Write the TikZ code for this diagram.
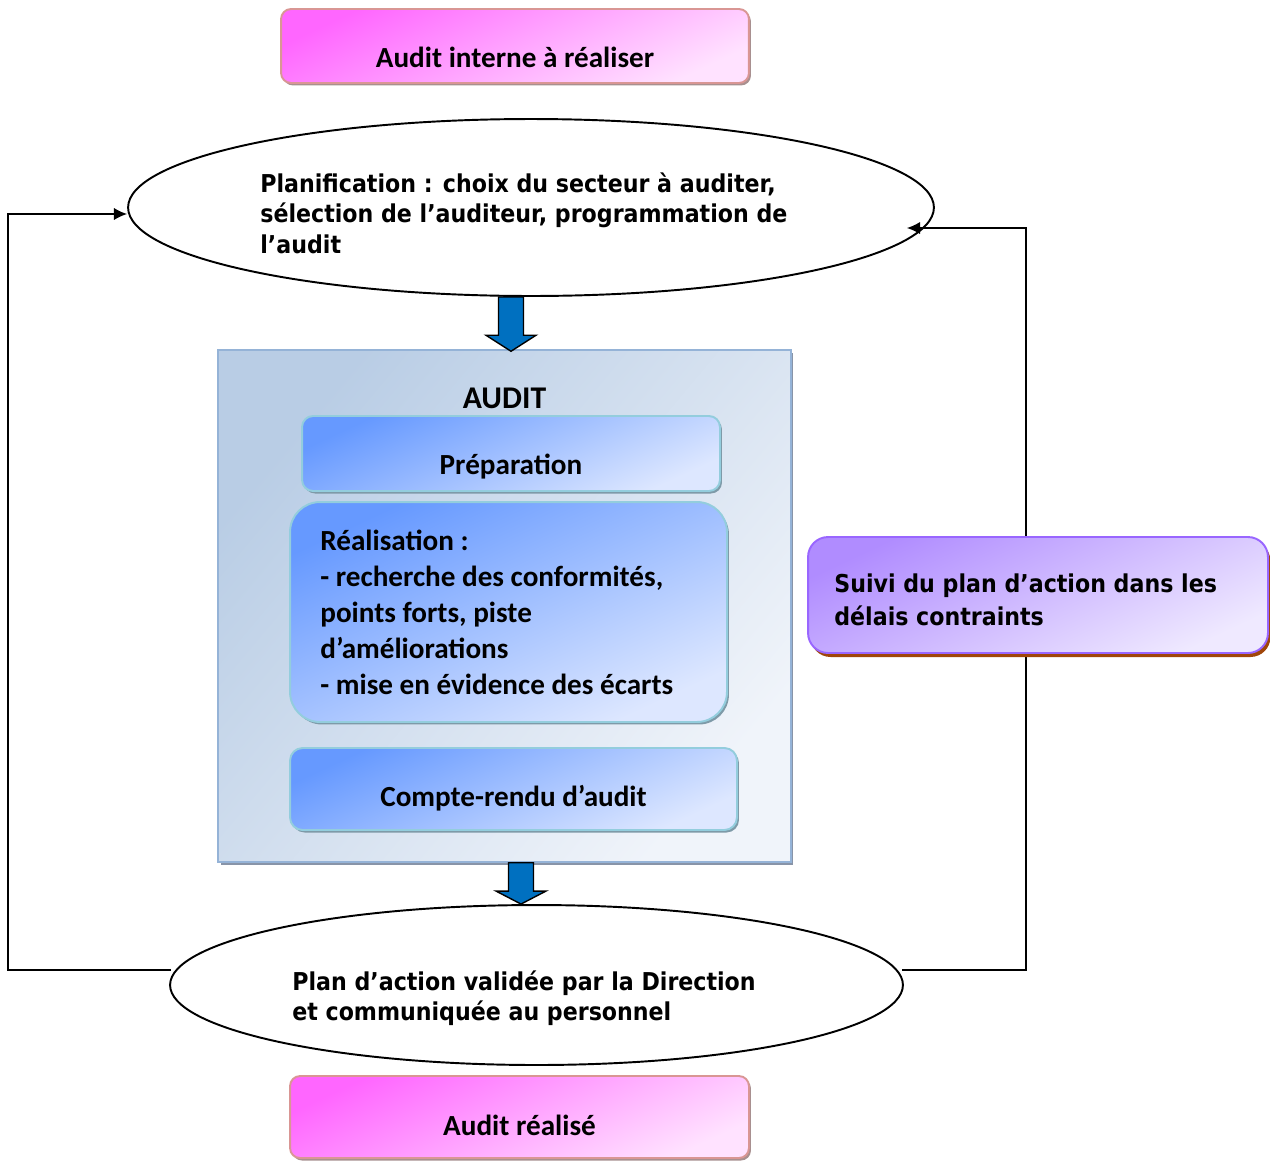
\documentclass[tikz,border=0pt]{standalone}
\usepackage{fontspec}
\usetikzlibrary{shapes.geometric,arrows.meta,calc,shadows}
\newfontfamily\calfont{Carlito}
\newfontfamily\tahfont{DejaVu Sans}[FakeStretch=0.9]

\definecolor{pinkA}{HTML}{FF66FF}
\definecolor{pinkB}{HTML}{FFE2FF}
\definecolor{pinkLine}{HTML}{D99694}
\definecolor{pinkShadow}{HTML}{A89090}
\definecolor{blueA}{HTML}{6699FF}
\definecolor{blueB}{HTML}{DDE7FF}
\definecolor{blueLine}{HTML}{93CDDD}
\definecolor{blueShadow}{HTML}{7E9AA8}
\definecolor{auditA}{HTML}{B9CDE5}
\definecolor{auditB}{HTML}{F0F4FA}
\definecolor{auditLine}{HTML}{95B3D7}
\definecolor{auditShadow}{HTML}{8894A8}
\definecolor{violetA}{HTML}{B08CFF}
\definecolor{violetB}{HTML}{EFE9FF}
\definecolor{violetLine}{HTML}{9966FF}
\definecolor{violetShadow}{HTML}{A0460A}
\definecolor{arrowBlue}{HTML}{0070C0}

\tikzset{
  boxbase/.style={rectangle, inner sep=0pt, line width=1.1pt},
  pinkbox/.style={boxbase, draw=pinkLine, rounded corners=0.2cm,
    top color=pinkA, bottom color=pinkB, shading angle=25,
    drop shadow={shadow xshift=0.04cm, shadow yshift=-0.05cm, fill=pinkShadow, opacity=1}},
  bluebox/.style={boxbase, draw=blueLine, rounded corners=0.22cm,
    top color=blueA, bottom color=blueB, shading angle=25,
    drop shadow={shadow xshift=0.04cm, shadow yshift=-0.05cm, fill=blueShadow, opacity=1}},
  auditbox/.style={boxbase, line width=0.9pt, draw=auditLine,
    top color=auditA, bottom color=auditB, shading angle=50,
    drop shadow={shadow xshift=0.05cm, shadow yshift=-0.06cm, fill=auditShadow, opacity=1}},
  violetbox/.style={boxbase, draw=violetLine, rounded corners=0.4cm,
    top color=violetA, bottom color=violetB, shading angle=25,
    drop shadow={shadow xshift=0.05cm, shadow yshift=-0.08cm, fill=violetShadow, opacity=1}},
  oval/.style={ellipse, draw=black, line width=1.1pt, fill=white, inner sep=0pt},
  calT/.style={inner sep=0pt, font=\calfont\bfseries\fontsize{16.6}{20.5}\selectfont},
  tahT/.style={inner sep=0pt, font=\tahfont\bfseries\fontsize{14}{17.5}\selectfont},
  conn/.style={draw=black, line width=0.85pt, -{Latex[length=7.5pt,width=7pt]}},
  blockarrow/.style={fill=arrowBlue, draw=black, line width=0.8pt, line join=miter},
}

\begin{document}
\begin{tikzpicture}[x=0.02cm, y=-0.02cm]
\useasboundingbox (0,0) rectangle (1270,1160);

% start of the process
\node[pinkbox, minimum width=9.36cm, minimum height=1.48cm] (start) at (515,46) {};
\node[calT, anchor=base] (startT) at (515,67) {Audit interne à réaliser};

% planning
\node[oval, minimum width=16.12cm, minimum height=3.54cm] (plan) at (531,207.5) {};
\node[tahT, anchor=base west] (planT) at (260,192)
  {\begin{tabular}[t]{@{}l@{}}Planification : choix du secteur à auditer,\\ sélection de l’auditeur, programmation de\\ l’audit\end{tabular}};

% the audit itself
\node[auditbox, minimum width=11.46cm, minimum height=10.24cm] (audit) at (504.5,606) {};
\node[calT, font=\calfont\bfseries\fontsize{18}{21}\selectfont, anchor=base] (auditT) at (504.5,408) {AUDIT};

\node[bluebox, minimum width=8.36cm, minimum height=1.5cm] (prep) at (511,453.5) {};
\node[calT, anchor=base] (prepT) at (511,474) {Préparation};

\node[bluebox, rounded corners=0.6cm, minimum width=8.74cm, minimum height=4.4cm] (real) at (508.5,612) {};
\node[calT, anchor=base west] (realT) at (320,550)
  {\begin{tabular}[t]{@{}l@{}}Réalisation :\\ - recherche des conformités,\\ points forts, piste\\ d’améliorations\\ - mise en évidence des écarts\end{tabular}};

\node[bluebox, rounded corners=0.25cm, minimum width=8.94cm, minimum height=1.64cm] (report) at (513.5,789) {};
\node[calT, anchor=base] (reportT) at (513.5,806) {Compte-rendu d’audit};

% action plan
\node[oval, minimum width=14.66cm, minimum height=3.2cm] (act) at (536.5,985) {};
\node[tahT, font=\tahfont\bfseries\fontsize{14}{17.6}\selectfont, anchor=base west] (actT) at (292,990)
  {\begin{tabular}[t]{@{}l@{}}Plan d’action validée par la Direction\\ et communiquée au personnel\end{tabular}};

% end of the process
\node[pinkbox, minimum width=9.18cm, minimum height=1.64cm] (done) at (519.5,1117) {};
\node[calT, anchor=base] (doneT) at (519.5,1135) {Audit réalisé};

% feedback loops
\coordinate (lc) at (8,600);
\coordinate (rc) at (1026,600);
\draw[conn] ($(act.west)+(1.5,-15)$) -| (lc) |- ($(plan.west)+(0,6.5)$);
\draw[conn] ($(act.east)+(-1.5,-15)$) -| (rc) |- ($(plan.east)+(-28,20.5)$);

% follow-up box, laid over the right loop
\node[violetbox, minimum width=9.2cm, minimum height=2.32cm] (follow) at (1038,595) {};
\node[tahT, font=\tahfont\bfseries\fontsize{14}{18.8}\selectfont, anchor=base west] (followT) at (834,592)
  {\begin{tabular}[t]{@{}l@{}}Suivi du plan d’action dans les\\ délais contraints\end{tabular}};

% block arrows into and out of the audit
\coordinate (t1) at ($(audit.north)+(6.5,2)$);
\coordinate (s1) at (t1 |- plan.south);
\draw[blockarrow] ($(s1)+(-12.5,0)$) -- ($(t1)+(-12.5,-16)$) -- ($(t1)+(-25,-16)$) -- (t1)
  -- ($(t1)+(25,-16)$) -- ($(t1)+(12.5,-16)$) -- ($(s1)+(12.5,0)$) -- cycle;

\coordinate (s2) at ($(audit.south)+(16.5,0)$);
\coordinate (t2) at (s2 |- act.north);
\draw[blockarrow] ($(s2)+(-12.5,0)$) -- ($(t2)+(-12.5,-13)$) -- ($(t2)+(-25,-13)$) -- (t2)
  -- ($(t2)+(25,-13)$) -- ($(t2)+(12.5,-13)$) -- ($(s2)+(12.5,0)$) -- cycle;
\end{tikzpicture}
\end{document}
